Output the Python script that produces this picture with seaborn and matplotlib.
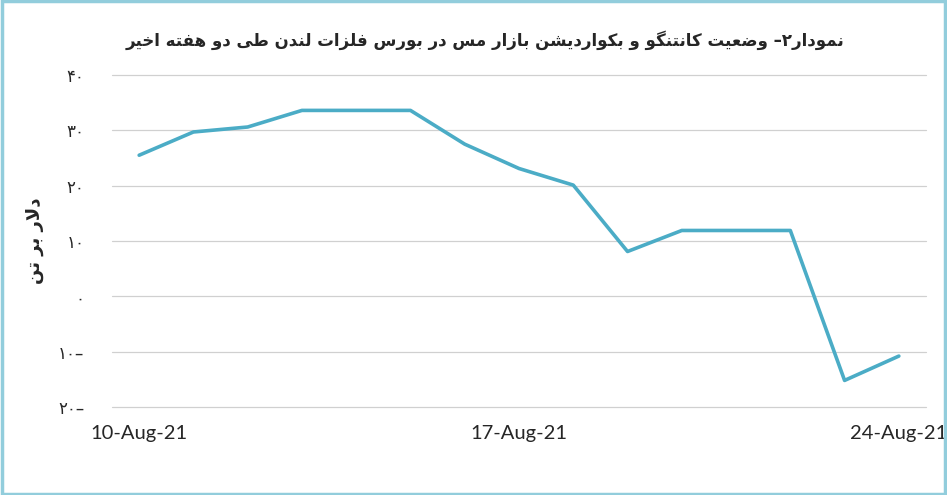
import matplotlib
matplotlib.use('Agg')
import pandas as pd
import matplotlib.pyplot as plt
import seaborn as sns
from matplotlib.patches import Rectangle

# data
dates = ['10-Aug-21', '11-Aug-21', '12-Aug-21', '13-Aug-21', '14-Aug-21',
         '15-Aug-21', '16-Aug-21', '17-Aug-21', '18-Aug-21', '19-Aug-21',
         '20-Aug-21', '21-Aug-21', '22-Aug-21', '23-Aug-21', '24-Aug-21']
spread = [25.5, 29.7, 30.6, 33.6, 33.6, 33.6, 27.5, 23.1, 20.1, 8.1,
          11.9, 11.9, 11.9, -15.2, -10.8]
shown_dates = ['10-Aug-21', '17-Aug-21', '24-Aug-21']
y_ticks = [-20, -10, 0, 10, 20, 30, 40]
y_tick_labels = ['۲۰–', '۱۰–', '۰', '۱۰', '۲۰', '۳۰', '۴۰']

title_fa = 'نمودار۲– وضعیت کانتنگو و بکواردیشن بازار مس در بورس فلزات لندن طی دو هفته اخیر'
ylabel_fa = 'دلار بر تن'

# small persian shaper: matplotlib has no complex text layout
FORMS = {
    'ا': ('\uFE8D', '\uFE8E'), 'د': ('\uFEA9', '\uFEAA'), 'ر': ('\uFEAD', '\uFEAE'),
    'ز': ('\uFEAF', '\uFEB0'), 'و': ('\uFEED', '\uFEEE'),
    'ب': ('\uFE8F', '\uFE90', '\uFE91', '\uFE92'), 'ت': ('\uFE95', '\uFE96', '\uFE97', '\uFE98'),
    'خ': ('\uFEA5', '\uFEA6', '\uFEA7', '\uFEA8'), 'س': ('\uFEB1', '\uFEB2', '\uFEB3', '\uFEB4'),
    'ش': ('\uFEB5', '\uFEB6', '\uFEB7', '\uFEB8'), 'ض': ('\uFEBD', '\uFEBE', '\uFEBF', '\uFEC0'),
    'ط': ('\uFEC1', '\uFEC2', '\uFEC3', '\uFEC4'), 'ع': ('\uFEC9', '\uFECA', '\uFECB', '\uFECC'),
    'ف': ('\uFED1', '\uFED2', '\uFED3', '\uFED4'), 'ل': ('\uFEDD', '\uFEDE', '\uFEDF', '\uFEE0'),
    'م': ('\uFEE1', '\uFEE2', '\uFEE3', '\uFEE4'), 'ن': ('\uFEE5', '\uFEE6', '\uFEE7', '\uFEE8'),
    'ه': ('\uFEE9', '\uFEEA', '\uFEEB', '\uFEEC'), 'ی': ('\uFBFC', '\uFBFD', '\uFBFE', '\uFBFF'),
    'ک': ('\uFB8E', '\uFB8F', '\uFB90', '\uFB91'), 'گ': ('\uFB92', '\uFB93', '\uFB94', '\uFB95'),
}


def shape(text):
    out = []
    i = 0
    n = len(text)
    while i < n:
        c = text[i]
        if c not in FORMS:
            out.append(c)
            i += 1
            continue
        prev = text[i - 1] if i > 0 else ''
        join_prev = prev in FORMS and len(FORMS[prev]) == 4
        if c == 'ل' and i + 1 < n and text[i + 1] == 'ا':
            out.append('\uFEFC' if join_prev else '\uFEFB')
            i += 2
            continue
        nxt = text[i + 1] if i + 1 < n else ''
        join_next = len(FORMS[c]) == 4 and nxt in FORMS
        f = FORMS[c]
        if join_prev and join_next:
            out.append(f[3])
        elif join_prev:
            out.append(f[1])
        elif join_next:
            out.append(f[2])
        else:
            out.append(f[0])
        i += 1
    return ''.join(reversed(out))


df = pd.DataFrame({'date': dates, 'spread': spread})
df['pos'] = range(len(df))

sns.set_theme(style='white')
plt.rcParams['font.family'] = ['Lato', 'DejaVu Sans']

fig = plt.figure(figsize=(9.47, 4.95), dpi=100)
ax = fig.add_axes([0.1183, 0.1778, 0.8595, 0.6707])

sns.lineplot(data=df, x='pos', y='spread', color='#4BACC6', linewidth=2.6, ax=ax)

ax.set_xlim(-0.5, len(dates) - 0.5)
ax.set_ylim(-20, 40)
ax.set_yticks(y_ticks)
ax.set_yticklabels(y_tick_labels, family=['DejaVu Sans'], fontsize=12)
ax.set_xticks([dates.index(d) for d in shown_dates])
ax.set_xticklabels(shown_dates, fontsize=14.5)
ax.tick_params(axis='y', length=0, pad=20)
ax.tick_params(axis='x', length=0, pad=13)
ax.grid(axis='y', color='#D0D0D0', linewidth=0.9)
for g in ax.get_ygridlines():
    g.set_clip_on(False)
for s in ax.spines.values():
    s.set_visible(False)
ax.set_xlabel('')
ax.set_ylabel(shape(ylabel_fa), family=['DejaVu Sans'], fontsize=13,
              fontweight='bold', labelpad=10)

fig.text(0.512, 0.919, shape(title_fa), ha='center', va='center',
         family=['DejaVu Sans'], fontsize=12, fontweight='bold')

fig.patches.append(Rectangle((0.002, 0.003), 0.996, 0.994, transform=fig.transFigure,
                             fill=False, edgecolor='#92CDDC', linewidth=2.5))

fig.savefig('out.png', dpi=100)
